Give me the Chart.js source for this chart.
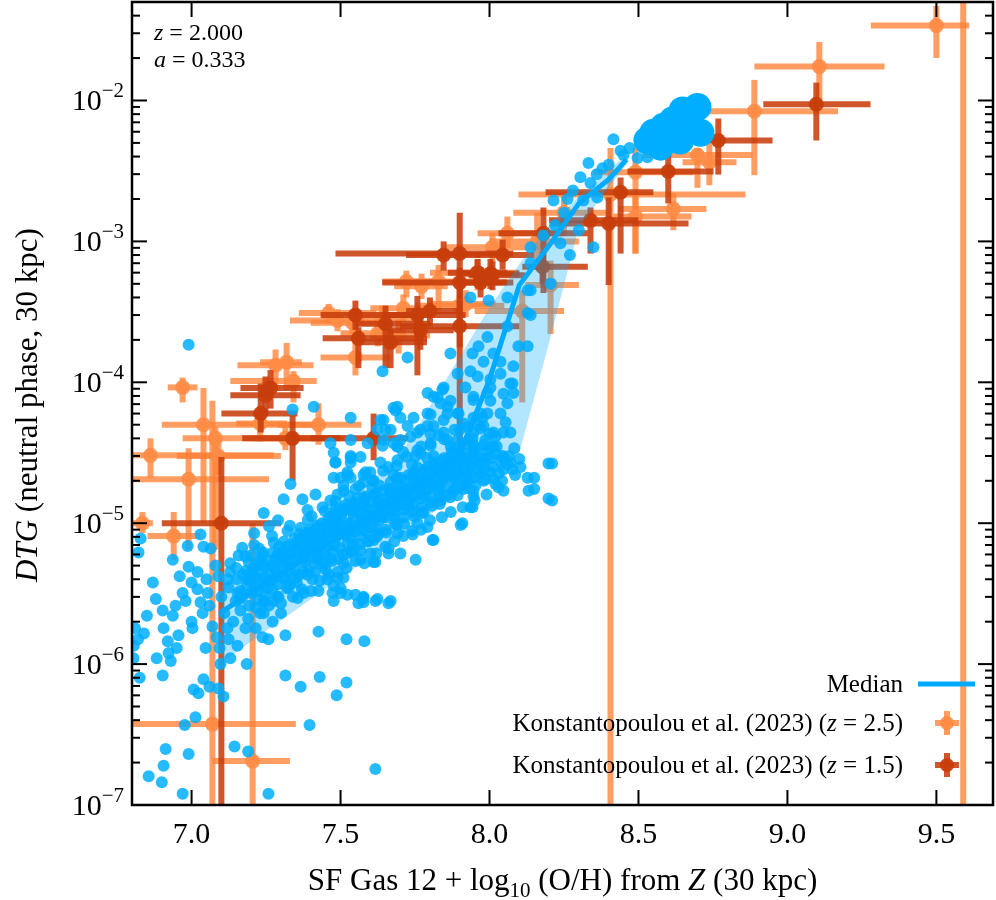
<!DOCTYPE html>
<html>
<head>
<meta charset="utf-8">
<title>DTG vs metallicity</title>
<script src="https://cdn.jsdelivr.net/npm/chart.js@4.4.0/dist/chart.umd.min.js"></script>
<style>
  html, body { margin: 0; padding: 0; background: #fff; }
  #wrap { width: 996px; height: 900px; position: relative; }
</style>
</head>
<body>
<div id="wrap"><canvas id="dtgChart"></canvas></div>
<script>
// ---- axis ranges and ticks ----
const X_MIN = 6.8, X_MAX = 9.69;
const Y_MIN = 1e-7, Y_MAX = 0.05;
const xTickValues = [7.0, 7.5, 8.0, 8.5, 9.0, 9.5];
const xTickLabels = ['7.0', '7.5', '8.0', '8.5', '9.0', '9.5'];
const yDecades = [-7, -6, -5, -4, -3, -2];

// ---- simulation median and 16-84 band ----
const medX  = [7.10, 7.20, 7.30, 7.40, 7.50, 7.60, 7.70, 7.80, 7.90, 8.00, 8.10, 8.20, 8.30, 8.40, 8.46];
const medY  = [2.34e-6, 3.24e-6, 4.37e-6, 6.03e-6, 8.13e-6, 1.12e-5, 1.51e-5, 2.09e-5, 3.09e-5, 1.05e-4, 4.9e-4, 9.33e-4, 1.86e-3, 2.75e-3, 3.8e-3];
const bandLo = [1.02e-6, 1.45e-6, 2.04e-6, 2.88e-6, 4.07e-6, 5.75e-6, 8.13e-6, 1.15e-5, 1.62e-5, 2.29e-5, 3.16e-5, 1.91e-4, 1.26e-3, 2.4e-3, 3.55e-3];
const bandHi = [3.63e-6, 5.01e-6, 6.76e-6, 9.77e-6, 1.38e-5, 2.0e-5, 3.02e-5, 6.76e-5, 1.51e-4, 3.39e-4, 6.92e-4, 1.29e-3, 2.09e-3, 3.16e-3, 4.17e-3];

// ---- simulated galaxies [12+log(O/H), DTG] ----
const simPoints = [
  [6.97,1.2e-7],[6.856,1.6e-7],[6.90,1.45e-7],[6.906,1.9e-7],[6.913,2.5e-7],[6.99,2.3e-7],
  [7.013,4.2e-7],[6.977,3.7e-7],[7.144,2.6e-7],[7.19,2.4e-7],[7.258,1.2e-7],[7.396,3.7e-7],
  [7.617,1.8e-7],[7.315,8.3e-7],[7.366,6.9e-7],[7.43,8.1e-7],[7.487,6.0e-7],[7.52,7.4e-7],
  [7.426,1.7e-6],[7.52,1.5e-6],[7.58,1.45e-6],[7.315,1.6e-6],[7.258,1.5e-6],[7.617,2.8e-6],
  [7.56,2.7e-6],[7.477,2.8e-6],[7.185,1.0e-6],[7.107,5.9e-7],[7.09,6.7e-7],[7.04,7.8e-7],
  [7.007,6.6e-7],[7.023,6.2e-7],[7.06,6.9e-7],[6.903,8.3e-7],[6.826,8.0e-7],[6.805,1.1e-6],
  [6.883,1.1e-6],[6.93,1.05e-6],[6.923,1.2e-6],[6.95,1.3e-6],[6.92,1.45e-6],[6.82,1.5e-6],
  [6.84,1.65e-6],[6.81,1.8e-6],[6.956,1.6e-6],[7.003,1.8e-6],[7.0,2.0e-6],[6.937,2.2e-6],
  [6.903,2.4e-6],[6.946,2.6e-6],[6.98,2.8e-6],[6.97,3.2e-6],[7.037,2.3e-6],[7.03,2.75e-6],
  [7.02,3.4e-6],[7.054,3.2e-6],[7.047,1.3e-6],[7.07,1.85e-6],[7.084,1.55e-6],[7.094,1.3e-6],
  [7.097,1.0e-6],[7.13,1.1e-6],[7.154,1.35e-6],[7.124,1.5e-6],[7.12,1.8e-6],[7.14,2.0e-6],
  [7.164,2.4e-6],[7.148,2.8e-6],[7.124,3.5e-6],[7.12,4.0e-6],[7.13,4.5e-6],[7.154,3.2e-6],
  [7.158,5.9e-6],[7.198,5.9e-6],[7.225,5.2e-6],[7.181,1.8e-6],[7.215,1.8e-6],[7.238,1.55e-6],
  [7.242,2.3e-6],[7.30,2.3e-6],[7.272,2.0e-6],[7.242,2.75e-6],[7.275,2.8e-6],[7.22,3.3e-6],
  [7.255,3.45e-6],[7.29,3.7e-6],[7.32,3.45e-6],[7.356,2.95e-6],[7.376,3.2e-6],[7.315,4.1e-6],
  [7.35,4.1e-6],[7.376,4.5e-6],[7.406,4.0e-6],[7.426,3.3e-6],[7.473,3.2e-6],[7.50,3.45e-6],
  [7.523,3.1e-6],[7.55,3.1e-6],[7.577,2.95e-6],[7.456,4.0e-6],[7.45,4.7e-6],[7.49,4.5e-6],
  [7.423,5.5e-6],[7.466,5.6e-6],[7.51,5.2e-6],[7.567,5.5e-6],[7.61,5.3e-6],[7.60,6.1e-6],
  [7.544,6.4e-6],[7.332,6.1e-6],[7.29,6.1e-6],[7.25,4.9e-6],[7.188,4.0e-6],[7.02,4.5e-6],
  [7.04,6.8e-6],[7.064,6.6e-6],[6.99,4.9e-6],[6.87,3.8e-6],[6.937,5.5e-6],[6.987,6.9e-6],
  [6.806,1.35e-6],[6.906,1.8e-6],[6.829,7.8e-6],[6.822,6.2e-6],[7.13,5.2e-6],[6.99,1.85e-4],
  [7.339,6.4e-5],[7.41,6.7e-5],[7.466,3.7e-5],[7.483,2.7e-5],[7.332,1.9e-5],[7.309,1.48e-5],
  [7.242,1.18e-5],[7.372,1.48e-5],[7.416,1.6e-5],[7.466,1.45e-5],[7.51,1.85e-5],[7.477,2.1e-5],
  [7.523,2.3e-5],[7.389,1.24e-5],[7.477,3.16e-5],[7.534,2.9e-5],[7.534,5.6e-5],[7.584,2.3e-5],
  [7.577,1.95e-5],[7.534,2.1e-5],[7.651,4.6e-5],[7.641,3.55e-5],[7.69,3.5e-5],[7.678,6.6e-5],
  [7.745,5.6e-5],[7.802,5.9e-5],[7.792,4.9e-5],[7.869,7.4e-5],[7.913,5.1e-5],[7.97,6.0e-5],
  [8.003,7.4e-5],[8.054,5.2e-5],[8.003,3.45e-5],[8.047,2.9e-5],[7.936,1.3e-5],[7.913,1.75e-5],
  [7.903,9.7e-6],[7.809,7.6e-6],[7.792,9.4e-6],[7.661,6.1e-6],[7.577,2.75e-6],[7.661,2.7e-6],
  [7.50,3.2e-6],[8.15,2.1e-5],[8.15,1.75e-5],[8.21,2.65e-5],[8.21,1.45e-5],[8.10,2.85e-5],
  // upper cloud
  [7.792,8.4e-5],[7.691,6.7e-5],[7.644,5.4e-5],[7.826,7.8e-5],[7.842,8.9e-5],[7.859,6.7e-5],
  [7.846,5.4e-5],[7.802,4.3e-5],[7.768,4.6e-5],[7.896,6.0e-5],[7.946,7.5e-5],[7.977,5.6e-5],
  [7.97,4.7e-5],[8.003,9.2e-5],[8.047,8.3e-5],[8.077,9.8e-5],[8.07,4.4e-5],[7.943,4.0e-5],
  [7.946,3.3e-5],[8.02,4.1e-5],[8.013,3.5e-5],[8.044,3.0e-5],[8.07,2.7e-5],[8.077,2.4e-5],
  [8.104,2.5e-5],[8.128,2.1e-5],[8.131,1.7e-5],[8.198,2.65e-5],[8.198,1.5e-5],[8.047,1.7e-5],
  [8.02,1.9e-5],[7.98,2.0e-5],[7.946,1.55e-5],[7.943,1.3e-5],[7.909,1.0e-5],[7.812,7.6e-6],
  [7.752,5.5e-6],[7.701,6.1e-6],[7.661,6.6e-6],[7.617,5.3e-6],[7.668,2.8e-6],[7.624,2.9e-6],
  [7.577,3.0e-6],[7.51,4.1e-6],[7.477,3.6e-6],
  // dense ridge
  [7.742,8.3e-6],[7.758,1.0e-5],[7.725,1.3e-5],[7.691,1.5e-5],[7.658,1.4e-5],[7.624,1.2e-5],
  [7.577,1.05e-5],[7.534,9.2e-6],[7.523,7.2e-6],[7.567,6.4e-6],[7.611,7.6e-6],[7.691,8.5e-6],
  [7.779,1.2e-5],[7.836,1.45e-5],[7.879,1.7e-5],[7.802,2.0e-5],[7.745,2.1e-5],[7.678,2.2e-5],
  [7.611,2.0e-5],[7.577,2.2e-5],[7.523,2.2e-5],[7.51,1.7e-5],[7.557,1.5e-5],[7.483,1.3e-5],
  [7.49,1.05e-5],[7.477,8.5e-6],[7.534,2.7e-5],[7.567,2.95e-5],[7.634,2.7e-5],[7.691,2.8e-5],
  [7.758,3.3e-5],[7.812,3.0e-5],[7.859,2.8e-5],[7.802,3.7e-5],[7.735,4.1e-5],[7.678,3.7e-5],
  [7.624,4.6e-5],[7.591,3.7e-5],[7.534,3.9e-5],[7.534,3.0e-5],[7.50,2.1e-5],[7.483,2.7e-5],
  [7.752,3.0e-5],[7.859,3.9e-5],[7.893,2.6e-5],[7.913,2.1e-5],[7.936,2.5e-5],[7.97,2.7e-5],
  [7.946,1.7e-5],
  [7.152,4.0e-6],[7.183,4.6e-6],[7.197,3.9e-6],[7.226,4.3e-6],[7.236,5.0e-6],[7.263,4.4e-6],
  [7.284,5.6e-6],[7.302,4.8e-6],[7.307,5.8e-6],[7.334,5.2e-6],[7.341,6.8e-6],[7.362,5.9e-6],
  [7.377,7.0e-6],[7.393,6.2e-6],[7.404,8.0e-6],[7.412,7.1e-6],[7.418,6.4e-6],[7.433,8.6e-6],
  [7.445,7.4e-6],[7.452,9.3e-6],[7.461,6.9e-6],[7.473,1.02e-5],[7.485,7.9e-6],[7.492,9.0e-6],
  [7.503,1.15e-5],[7.514,8.3e-6],[7.522,1.0e-5],[7.531,1.25e-5],[7.546,1.1e-5],[7.553,8.8e-6],
  [7.561,1.2e-5],[7.573,1.35e-5],[7.584,9.7e-6],[7.592,1.15e-5],[7.603,1.4e-5],[7.612,1.05e-5],
  [7.618,1.6e-5],[7.634,1.3e-5],[7.642,1.1e-5],[7.651,1.5e-5],[7.663,1.75e-5],[7.672,1.25e-5],
  [7.684,1.6e-5],[7.692,1.9e-5],[7.703,1.35e-5],[7.711,1.7e-5],[7.724,2.0e-5],[7.732,1.5e-5],
  [7.741,1.8e-5],[7.748,2.3e-5],[7.762,1.6e-5],[7.771,1.95e-5],[7.782,2.4e-5],[7.794,1.75e-5],
  [7.803,2.2e-5],[7.812,2.6e-5],[7.821,1.9e-5],[7.834,2.3e-5],[7.843,2.8e-5],[7.852,2.1e-5],
  [7.861,2.4e-5],[7.873,3.2e-5],[7.882,2.2e-5],[7.891,2.6e-5],[7.903,3.0e-5],[7.921,2.3e-5],
  [7.942,2.8e-5],[7.958,3.4e-5],[7.983,2.4e-5],
  [7.163,3.3e-6],[7.192,5.3e-6],[7.214,3.5e-6],[7.232,5.5e-6],[7.251,3.8e-6],[7.273,6.2e-6],
  [7.288,4.2e-6],[7.323,6.9e-6],[7.347,4.6e-6],[7.368,7.8e-6],[7.384,5.4e-6],[7.397,9.0e-6],
  [7.421,5.7e-6],[7.438,1.0e-5],[7.449,6.0e-6],[7.468,8.0e-6],[7.481,1.2e-5],[7.497,6.7e-6],
  [7.517,1.35e-5],[7.533,7.8e-6],[7.548,1.4e-5],[7.562,9.5e-6],[7.581,1.55e-5],[7.593,8.5e-6],
  [7.607,1.75e-5],[7.621,9.0e-6],[7.638,1.35e-5],[7.654,1.1e-5],[7.668,1.95e-5],[7.681,1.1e-5],
  [7.697,1.6e-5],[7.713,1.25e-5],[7.729,2.2e-5],[7.744,1.35e-5],[7.757,2.5e-5],[7.768,1.5e-5],
  [7.787,2.05e-5],[7.801,1.55e-5],[7.818,2.7e-5],[7.829,1.7e-5],[7.848,2.9e-5],[7.857,1.8e-5],
  [7.878,3.4e-5],[7.888,2.0e-5],[7.912,3.6e-5],[7.928,2.0e-5],[7.951,3.1e-5],[7.967,2.2e-5],
  [7.988,2.9e-5],[8.012,2.5e-5],[8.031,2.25e-5],[8.052,2.8e-5],
  [7.172,4.3e-6],[7.207,4.8e-6],[7.243,4.1e-6],[7.268,5.0e-6],[7.298,5.5e-6],[7.329,6.0e-6],
  [7.357,6.5e-6],[7.386,7.3e-6],[7.409,8.4e-6],[7.437,8.2e-6],[7.458,9.4e-6],[7.488,1.05e-5],
  [7.507,9.6e-6],[7.541,1.18e-5],[7.572,1.1e-5],[7.598,1.25e-5],[7.627,1.45e-5],[7.659,1.4e-5],
  [7.688,1.65e-5],[7.716,1.7e-5],[7.753,1.9e-5],[7.776,2.05e-5],[7.808,2.3e-5],[7.838,2.4e-5],
  [7.866,2.6e-5],[7.897,2.7e-5],[7.932,2.9e-5],[7.961,2.6e-5],[7.992,3.3e-5],
  [7.161,2.9e-6],[7.184,3.6e-6],[7.193,2.6e-6],[7.212,4.1e-6],[7.221,2.9e-6],[7.234,3.7e-6],
  [7.248,3.1e-6],[7.262,5.4e-6],[7.271,3.4e-6],[7.283,4.7e-6],[7.292,3.0e-6],[7.304,6.3e-6],
  [7.313,4.0e-6],[7.322,5.0e-6],[7.331,3.7e-6],[7.343,5.6e-6],[7.352,7.2e-6],[7.361,4.3e-6],
  [7.372,5.3e-6],[7.381,8.3e-6],[7.392,4.6e-6],[7.401,6.8e-6],[7.413,5.2e-6],[7.422,9.6e-6],
  [7.431,6.1e-6],[7.441,5.0e-6],[7.453,7.9e-6],[7.462,1.1e-5],[7.471,6.3e-6],[7.483,9.1e-6],
  [7.494,5.6e-6],[7.502,8.4e-6],[7.512,1.25e-5],[7.521,6.1e-6],[7.532,9.8e-6],[7.542,7.1e-6],
  [7.551,1.3e-5],[7.563,8.2e-6],[7.571,1.05e-5],[7.582,1.45e-5],[7.591,7.4e-6],[7.601,1.1e-5],
  [7.613,1.6e-5],[7.622,8.0e-6],[7.631,1.2e-5],[7.643,1.7e-5],[7.652,9.0e-6],[7.661,1.25e-5],
  [7.673,1.5e-5],[7.682,1.0e-5],[7.691,1.35e-5],[7.702,2.1e-5],[7.712,1.1e-5],[7.721,1.45e-5],
  [7.733,1.8e-5],[7.742,1.2e-5],[7.751,1.6e-5],[7.763,2.0e-5],[7.772,1.3e-5],[7.781,1.75e-5],
  [7.792,2.5e-5],[7.802,1.4e-5],[7.811,1.85e-5],[7.823,2.1e-5],[7.832,1.55e-5],[7.841,2.0e-5],
  [7.853,2.55e-5],[7.862,1.6e-5],[7.871,2.2e-5],[7.883,2.75e-5],[7.892,1.8e-5],[7.901,2.3e-5],
  [7.913,2.9e-5],[7.922,1.9e-5],[7.931,2.5e-5],[7.943,3.3e-5],[7.952,2.1e-5],[7.972,2.9e-5],
  [7.981,3.6e-5],[8.003,2.3e-5],[8.021,3.1e-5],[8.042,2.0e-5],[8.061,2.6e-5],[8.083,3.4e-5],
  [7.205,4.5e-6],[7.236,6.0e-6],[7.266,4.0e-6],[7.294,6.8e-6],[7.316,5.3e-6],[7.346,7.8e-6],
  [7.374,6.2e-6],[7.396,8.6e-6],[7.426,7.6e-6],[7.454,1.0e-5],[7.476,8.8e-6],[7.506,1.2e-5],
  [7.524,8.9e-6],[7.545,1.35e-5],[7.566,1.0e-5],[7.586,1.25e-5],[7.604,9.3e-6],[7.626,1.4e-5],
  [7.644,1.15e-5],[7.666,1.65e-5],[7.686,1.3e-5],[7.704,1.8e-5],[7.726,1.55e-5],[7.744,2.2e-5],
  [7.766,1.75e-5],[7.784,2.3e-5],[7.806,1.9e-5],[7.826,2.5e-5],[7.844,2.15e-5],[7.866,2.9e-5],
  [7.884,2.4e-5],[7.906,3.2e-5],[7.924,2.7e-5],[7.946,3.6e-5],[7.964,2.4e-5],[7.986,3.9e-5],
  [8.006,2.9e-5],[8.024,3.5e-5],[8.046,2.4e-5],[8.066,3.0e-5],[8.086,2.2e-5],
  [7.217,2.5e-6],[7.244,2.8e-6],[7.287,3.0e-6],[7.326,3.5e-6],[7.353,3.8e-6],[7.388,4.3e-6],
  [7.414,4.5e-6],[7.447,5.2e-6],[7.472,5.4e-6],[7.508,6.0e-6],[7.536,6.3e-6],[7.563,7.1e-6],
  [7.597,7.5e-6],[7.628,8.4e-6],[7.653,8.6e-6],[7.689,9.7e-6],[7.713,9.9e-6],[7.748,1.12e-5],
  [7.773,1.18e-5],[7.807,1.33e-5],[7.833,1.37e-5],[7.868,1.53e-5],[7.893,1.58e-5],[7.927,1.78e-5],
  [7.953,1.86e-5],[7.987,2.05e-5],[8.013,2.08e-5],
  [7.227,6.6e-6],[7.276,7.3e-6],[7.322,8.8e-6],[7.367,9.3e-6],[7.403,1.12e-5],[7.447,1.22e-5],
  [7.483,1.43e-5],[7.528,1.56e-5],[7.562,1.84e-5],[7.608,2.0e-5],[7.643,2.36e-5],[7.688,2.55e-5],
  [7.722,2.96e-5],[7.768,3.15e-5],[7.802,3.56e-5],[7.848,3.95e-5],[7.882,4.6e-5],[7.927,4.8e-5],
  [7.18,5.8e-6],[7.21,7.0e-6],[7.24,6.2e-6],[7.27,8.1e-6],[7.31,7.4e-6],[7.33,9.6e-6],
  [7.36,8.4e-6],[7.39,1.06e-5],[7.42,9.2e-6],[7.44,1.3e-5],[7.47,1.12e-5],[7.49,1.6e-5],
  [7.52,1.28e-5],[7.55,1.75e-5],[7.58,1.5e-5],[7.60,2.3e-5],[7.63,1.85e-5],[7.66,2.5e-5],
  [7.69,2.1e-5],[7.71,3.2e-5],[7.74,2.6e-5],[7.77,3.5e-5],[7.79,2.9e-5],[7.83,4.2e-5],
  [7.87,3.5e-5],[7.90,4.6e-5],[7.93,3.9e-5],[7.96,5.0e-5],[8.00,4.3e-5],
  [7.19,2.1e-6],[7.23,2.3e-6],[7.26,2.6e-6],[7.30,2.7e-6],[7.34,3.0e-6],[7.37,3.4e-6],
  [7.40,3.3e-6],[7.43,3.9e-6],[7.46,4.3e-6],[7.49,4.1e-6],[7.52,4.8e-6],[7.55,5.4e-6],
  [7.58,5.2e-6],[7.62,6.1e-6],[7.65,6.8e-6],[7.68,7.4e-6],[7.71,8.1e-6],[7.74,8.8e-6],
  [7.77,9.0e-6],[7.80,1.05e-5],[7.84,1.1e-5],[7.87,1.2e-5],[7.91,1.3e-5],[7.95,1.45e-5],
  [7.99,1.6e-5],[8.03,1.8e-5],
  [7.17,3.0e-6],[7.20,3.2e-6],[7.28,4.1e-6],[7.33,4.5e-6],[7.38,5.8e-6],[7.43,6.9e-6],
  [7.48,7.0e-6],[7.53,8.6e-6],[7.58,8.9e-6],[7.63,1.05e-5],[7.68,1.2e-5],[7.73,1.35e-5],
  [7.78,1.55e-5],[7.83,1.8e-5],[7.88,2.1e-5],[7.93,2.2e-5],[7.98,2.6e-5],[8.04,2.7e-5],
  [7.00,3.8e-6],[7.05,4.0e-6],[7.08,5.0e-6],[7.10,3.0e-6],[7.11,2.3e-6],[7.06,2.6e-6],
  [7.09,4.2e-6],[7.15,4.8e-6],[7.03,8.3e-6],[6.96,4.2e-6],[6.88,2.9e-6],[6.85,2.2e-6],
  [7.17,6.7e-6],[7.21,8.5e-6],[7.26,9.5e-6],[7.29,1.05e-5],
  // steep rise inside the band
  [7.936,4.0e-4],[7.997,3.8e-4],[8.138,4.5e-4],[8.138,3.0e-4],[8.097,1.8e-4],[8.128,1.8e-4],
  [8.06,2.5e-4],[7.993,2.1e-4],[7.963,1.8e-4],[7.943,1.6e-4],[8.013,1.6e-4],[8.037,1.4e-4],
  [7.98,1.4e-4],[7.936,1.2e-4],[7.96,1.1e-4],[8.003,1.05e-4],[8.037,1.15e-4],[8.07,9.8e-5],
  [8.08,1.3e-4],[7.993,8.4e-5],[7.946,7.9e-5],[7.919,9.2e-5],[7.893,1.15e-4],[7.869,1.6e-4],
  [7.846,9.2e-5],[7.836,7.1e-5],[7.812,7.9e-5],[7.859,6.0e-5],[7.893,6.0e-5],[7.946,5.6e-5],
  [7.993,6.0e-5],[8.037,6.0e-5],[7.98,4.9e-5],[7.946,4.4e-5],[7.893,3.9e-5],[7.846,4.4e-5],
  [7.792,6.0e-5],[7.812,4.9e-5],[7.758,4.4e-5],[7.725,4.9e-5],[7.701,5.6e-5],[7.685,6.3e-5],
  [7.634,5.4e-5],[7.668,4.6e-5],[7.701,3.9e-5],[7.644,3.9e-5],[8.06,7.1e-5],[8.08,8.4e-5],
  [8.013,4.4e-5],[8.047,4.4e-5],[7.725,1.5e-4],[7.641,1.2e-4],[7.691,3.5e-5],
  [8.416,5.3e-3],[8.44,4.4e-3],[8.332,3.6e-3],[8.379,3.3e-3],[8.305,2.85e-3],[8.339,2.6e-3],
  [8.362,2.05e-3],[8.315,1.95e-3],[8.262,2.0e-3],[8.215,1.95e-3],[8.497,3.9e-3],[8.53,3.95e-3],
  [8.349,9.1e-4],[8.238,9.7e-4],[8.138,9.1e-4],[8.138,7.0e-4],[8.205,5.0e-4],[8.128,4.5e-4],
  [8.128,3.1e-4],[8.06,4.0e-4],[8.47,4.6e-3],[8.45,4.1e-3],[8.40,3.5e-3],[8.36,3.0e-3],
  [8.28,2.3e-3],[8.25,1.6e-3],[8.22,1.3e-3],[8.18,1.1e-3],[8.30,1.2e-3],[8.27,8.0e-4]
];

// most massive galaxies, drawn with large markers
const simBigPoints = [
  [8.698,9.0e-3],[8.648,8.5e-3],[8.614,7.2e-3],[8.584,6.5e-3],[8.55,5.9e-3],[8.53,5.2e-3],
  [8.64,5.2e-3],[8.708,5.9e-3],[8.664,6.5e-3],[8.597,5.5e-3],[8.574,4.7e-3]
];

// ---- Konstantopoulou et al. (2023): [x, y, xMin, xMax, yMin, yMax] ----
const konst25 = [
  [9.50, 3.4e-2, 9.28, 9.61, 2.0e-2, 4.7e-2],
  [9.107, 1.74e-2, 8.889, 9.326, 9.0e-3, 2.6e-2],
  [8.889, 8.4e-3, 8.60, 9.17, 2.95e-3, 1.4e-2],
  [8.698, 4.1e-3, 8.517, 8.883, 2.4e-3, 4.6e-3],
  [8.738, 3.65e-3, 8.648, 8.829, 2.5e-3, 4.95e-3],
  [8.49, 3.1e-3, 8.349, 8.685, 8.2e-4, 4.6e-3],
  [8.406, 2.15e-3, 8.097, 8.859, 1e-9, 4.6e-3],
  [8.617, 1.7e-3, 8.433, 8.728, 1.2e-3, 2.2e-3],
  [8.49, 1.5e-3, 8.416, 8.678, 8.2e-4, 2.2e-3],
  [9.59, 1e-9, 9.585, 9.595, 1e-9, 1.0],
  [6.97, 9.2e-5, 6.92, 7.02, 7.2e-5, 1.08e-4],
  [7.282, 1.32e-4, 7.154, 7.409, 9.2e-5, 1.71e-4],
  [7.319, 1.39e-4, 7.23, 7.37, 8.8e-5, 1.9e-4],
  [7.342, 1.02e-4, 7.13, 7.42, 7.2e-5, 1.2e-4],
  [7.04, 5.0e-5, 6.90, 7.42, 1.0e-5, 9.1e-5],
  [7.08, 4.0e-5, 6.97, 7.55, 6.5e-6, 4.8e-5],
  [6.862, 3.03e-5, 6.80, 7.275, 2.1e-5, 4.0e-5],
  [7.09, 3.0e-5, 6.95, 7.30, 2.2e-5, 4.0e-5],
  [6.99, 2.05e-5, 6.80, 7.26, 6.5e-6, 3.4e-5],
  [6.835, 1.0e-5, 6.80, 6.87, 8.5e-6, 1.2e-5],
  [6.94, 8.1e-6, 6.852, 7.03, 5.5e-6, 1.2e-5],
  [7.07, 3.75e-7, 6.80, 7.35, 1e-9, 7.4e-5],
  [7.205, 2.05e-7, 7.07, 7.33, 1e-9, 1.0e-5],
  [7.426, 5.0e-5, 7.29, 7.57, 3.6e-5, 7.1e-5],
  [7.23, 5.1e-5, 7.15, 7.32, 3.8e-5, 6.8e-5],
  [7.315, 4.0e-5, 7.20, 7.42, 3.3e-5, 4.8e-5],
  [7.721, 5.2e-4, 7.64, 7.846, 4.0e-4, 6.2e-4],
  [7.772, 4.8e-4, 7.68, 7.86, 3.9e-4, 5.9e-4],
  [7.829, 5.2e-4, 7.72, 7.95, 3.2e-4, 6.8e-4],
  [7.46, 3.1e-4, 7.36, 7.62, 2.6e-4, 3.6e-4],
  [7.49, 2.75e-4, 7.33, 7.58, 2.3e-4, 3.3e-4],
  [7.54, 2.65e-4, 7.40, 7.65, 2.2e-4, 3.2e-4],
  [7.64, 2.85e-4, 7.55, 7.75, 2.3e-4, 3.5e-4],
  [7.625, 2.23e-4, 7.50, 7.72, 1.8e-4, 2.8e-4],
  [7.695, 2.15e-4, 7.60, 7.80, 1.6e-4, 2.8e-4],
  [7.711, 3.35e-4, 7.60, 7.82, 2.7e-4, 4.2e-4],
  [7.55, 1.5e-4, 7.433, 7.668, 1.12e-4, 2.1e-4],
  [7.90, 3.5e-4, 7.75, 8.05, 3.0e-4, 4.2e-4],
  [8.01, 9.1e-4, 7.85, 8.20, 7.0e-4, 1.15e-3],
  [8.06, 1.14e-3, 7.96, 8.25, 9.0e-4, 1.5e-3],
  [8.11, 3.2e-4, 7.95, 8.25, 7.2e-5, 4.5e-4],
  [7.92, 3.6e-4, 7.80, 8.02, 2.9e-4, 4.5e-4],
  [8.16, 1.0e-3, 8.00, 8.30, 6.8e-4, 1.6e-3],
  [8.25, 1.6e-3, 8.08, 8.40, 1.1e-3, 2.1e-3],
  [7.96, 6.0e-4, 7.80, 8.10, 4.5e-4, 7.5e-4],
  [8.205, 4.9e-4, 8.12, 8.30, 2.2e-4, 7.3e-4]
];

const konst15 = [
  [9.097, 9.4e-3, 8.919, 9.279, 5.2e-3, 1.34e-2],
  [8.768, 5.2e-3, 8.68, 8.95, 2.98e-3, 7.45e-3],
  [8.60, 3.13e-3, 8.463, 8.752, 1.86e-3, 4.41e-3],
  [8.44, 2.23e-3, 8.188, 8.55, 8.2e-4, 2.84e-3],
  [8.40, 1.34e-3, 8.205, 8.668, 4.9e-4, 2.05e-3],
  [8.339, 1.41e-3, 8.20, 8.50, 8.2e-4, 1.74e-3],
  [8.181, 1.14e-3, 8.03, 8.33, 4.3e-4, 1.74e-3],
  [8.178, 6.6e-4, 8.11, 8.33, 5.0e-4, 8.5e-4],
  [8.003, 5.9e-4, 7.90, 8.10, 4.6e-4, 7.5e-4],
  [7.90, 8.2e-4, 7.483, 8.08, 1.77e-4, 1.6e-3],
  [7.846, 8.0e-4, 7.72, 7.97, 6.2e-4, 1.0e-3],
  [7.90, 5.1e-4, 7.64, 8.08, 3.9e-4, 6.5e-4],
  [7.97, 5.1e-4, 7.90, 8.06, 4.0e-4, 6.5e-4],
  [8.044, 8.0e-4, 7.95, 8.15, 6.3e-4, 1.03e-3],
  [8.01, 5.75e-4, 7.93, 8.12, 4.5e-4, 7.2e-4],
  [7.55, 3.0e-4, 7.433, 7.735, 2.35e-4, 3.8e-4],
  [7.56, 2.05e-4, 7.44, 7.79, 1.26e-4, 2.46e-4],
  [7.651, 2.6e-4, 7.55, 7.80, 1.26e-4, 3.5e-4],
  [7.668, 1.92e-4, 7.55, 7.79, 1.26e-4, 2.4e-4],
  [7.758, 3.0e-4, 7.64, 7.92, 1.12e-4, 4.1e-4],
  [7.768, 2.34e-4, 7.66, 7.88, 1.7e-4, 3.0e-4],
  [7.90, 2.5e-4, 7.70, 8.10, 2.1e-5, 3.8e-4],
  [7.265, 9.1e-5, 7.164, 7.376, 6.5e-5, 1.22e-4],
  [7.248, 8.1e-5, 7.13, 7.366, 6.0e-5, 1.1e-4],
  [7.232, 6.0e-5, 7.10, 7.355, 4.4e-5, 9.8e-5],
  [7.339, 4.0e-5, 7.17, 7.50, 2.0e-5, 5.8e-5],
  [7.611, 4.0e-5, 7.40, 7.728, 2.8e-5, 6.0e-5],
  [7.10, 1.0e-5, 6.90, 7.30, 1e-9, 2.95e-5],
  [7.80, 3.2e-4, 7.72, 7.90, 2.5e-4, 4.0e-4],
  [7.96, 6.0e-4, 7.86, 8.06, 4.8e-4, 7.5e-4]
];

// ---- styles ----
const SERIF = '"Liberation Serif", "DejaVu Serif", serif';
const BLUE_DOT = 'rgba(0, 174, 255, 0.85)';
const BLUE_LINE = '#00aaff';
const BAND_FILL = 'rgba(0, 170, 255, 0.30)';
const ORANGE_BAR = 'rgba(255, 130, 55, 0.78)';
const ORANGE_DOT = 'rgba(255, 140, 70, 0.9)';
const RED_BAR = 'rgba(200, 62, 12, 0.88)';
const RED_DOT = 'rgba(200, 62, 12, 0.95)';

const toXY = (xs, ys) => xs.map((v, i) => ({ x: v, y: ys[i] }));
const pairs = rows => rows.map(r => ({ x: r[0], y: r[1] }));

const IDX_K15 = 5, IDX_K25 = 6;

function drawErrorBars(ctx, xs, ys, rows, color) {
    ctx.strokeStyle = color;
    ctx.lineWidth = 6;
    ctx.lineCap = 'butt';
    rows.forEach(r => {
        const px = xs.getPixelForValue(r[0]);
        const py = ys.getPixelForValue(r[1]);
        ctx.beginPath();
        ctx.moveTo(xs.getPixelForValue(r[2]), py);
        ctx.lineTo(xs.getPixelForValue(r[3]), py);
        ctx.stroke();
        ctx.beginPath();
        ctx.moveTo(px, ys.getPixelForValue(r[4]));
        ctx.lineTo(px, ys.getPixelForValue(r[5]));
        ctx.stroke();
    });
}

// draw a row of text pieces (different fonts / baselines) starting at x
function drawRuns(ctx, runs, x, y, align) {
    let total = 0;
    runs.forEach(r => { ctx.font = r.font; r.w = ctx.measureText(r.t).width; total += r.w; });
    let cx = align === 'right' ? x - total : align === 'center' ? x - total / 2 : x;
    ctx.textAlign = 'left';
    ctx.textBaseline = 'alphabetic';
    runs.forEach(r => {
        ctx.font = r.font;
        ctx.fillText(r.t, cx, y + (r.dy || 0));
        cx += r.w;
    });
}

const errorBarPlugin = {
    id: 'errorBars',
    beforeDatasetDraw(chart, args) {
        if (args.index !== IDX_K15 && args.index !== IDX_K25) return;
        const { ctx, chartArea: a, scales: { x, y } } = chart;
        ctx.save();
        ctx.beginPath();
        ctx.rect(a.left, a.top, a.right - a.left, a.bottom - a.top);
        ctx.clip();
        if (args.index === IDX_K25) drawErrorBars(ctx, x, y, konst25, ORANGE_BAR);
        else drawErrorBars(ctx, x, y, konst15, RED_BAR);
        ctx.restore();
    }
};

const framePlugin = {
    id: 'frame',
    afterDraw(chart) {
        const { ctx, chartArea: a, scales: { x, y } } = chart;
        ctx.save();
        ctx.strokeStyle = '#000';
        ctx.fillStyle = '#000';

        // inward ticks
        ctx.lineWidth = 2;
        const seg = (x0, y0, x1, y1) => { ctx.beginPath(); ctx.moveTo(x0, y0); ctx.lineTo(x1, y1); ctx.stroke(); };
        xTickValues.forEach(v => {
            const px = x.getPixelForValue(v);
            seg(px, a.bottom, px, a.bottom - 15);
            seg(px, a.top, px, a.top + 15);
        });
        yDecades.forEach(n => {
            const py = y.getPixelForValue(Math.pow(10, n));
            seg(a.left, py, a.left + 15, py);
            seg(a.right, py, a.right - 15, py);
            for (let k = 2; k <= 9; k++) {
                const v = k * Math.pow(10, n);
                if (v >= Y_MAX) break;
                const pm = y.getPixelForValue(v);
                seg(a.left, pm, a.left + 8, pm);
                seg(a.right, pm, a.right - 8, pm);
            }
        });

        // frame
        ctx.lineWidth = 2.5;
        ctx.strokeRect(a.left, a.top, a.right - a.left, a.bottom - a.top);

        // x tick labels
        ctx.font = '30px ' + SERIF;
        ctx.textAlign = 'center';
        ctx.textBaseline = 'alphabetic';
        xTickValues.forEach((v, i) => ctx.fillText(xTickLabels[i], x.getPixelForValue(v), a.bottom + 38));

        // y tick labels 10^n
        yDecades.forEach(n => {
            const py = y.getPixelForValue(Math.pow(10, n));
            drawRuns(ctx, [
                { t: '10', font: '30px ' + SERIF },
                { t: '\u2212' + Math.abs(n), font: '21px ' + SERIF, dy: -13 }
            ], a.left - 8, py + 10, 'right');
        });

        // axis titles
        drawRuns(ctx, [
            { t: 'SF Gas 12 + log', font: '31px ' + SERIF },
            { t: '10', font: '21px ' + SERIF, dy: 7 },
            { t: ' (O/H) from ', font: '31px ' + SERIF },
            { t: 'Z', font: 'italic 31px ' + SERIF },
            { t: ' (30 kpc)', font: '31px ' + SERIF }
        ], (a.left + a.right) / 2, 890, 'center');

        ctx.save();
        ctx.translate(37, 405);
        ctx.rotate(-Math.PI / 2);
        drawRuns(ctx, [
            { t: 'DTG', font: 'italic 31px ' + SERIF },
            { t: ' (neutral phase, 30 kpc)', font: '31px ' + SERIF }
        ], 0, 0, 'center');
        ctx.restore();

        // redshift annotation
        drawRuns(ctx, [{ t: 'z', font: 'italic 24px ' + SERIF }, { t: ' = 2.000', font: '24px ' + SERIF }], a.left + 22, 40, 'left');
        drawRuns(ctx, [{ t: 'a', font: 'italic 24px ' + SERIF }, { t: ' = 0.333', font: '24px ' + SERIF }], a.left + 22, 67, 'left');

        // legend
        const lx = 903, mx = 947;
        drawRuns(ctx, [{ t: 'Median', font: '25px ' + SERIF }], lx, 692, 'right');
        ctx.strokeStyle = BLUE_LINE;
        ctx.lineWidth = 5;
        seg(918, 684, 975, 684);

        const legendRows = [
            { label: '2.5', yc: 723, bar: ORANGE_BAR, dot: ORANGE_DOT },
            { label: '1.5', yc: 765, bar: RED_BAR, dot: RED_DOT }
        ];
        legendRows.forEach(r => {
            ctx.fillStyle = '#000';
            drawRuns(ctx, [
                { t: 'Konstantopoulou et al. (2023) (', font: '25px ' + SERIF },
                { t: 'z', font: 'italic 25px ' + SERIF },
                { t: ' = ' + r.label + ')', font: '25px ' + SERIF }
            ], lx, r.yc + 8, 'right');
            ctx.strokeStyle = r.bar;
            ctx.lineWidth = 6;
            seg(mx - 12, r.yc, mx + 12, r.yc);
            seg(mx, r.yc - 12, mx, r.yc + 12);
            ctx.fillStyle = r.dot;
            ctx.beginPath();
            ctx.arc(mx, r.yc, 7, 0, Math.PI * 2);
            ctx.fill();
        });
        ctx.restore();
    }
};

new Chart(document.getElementById('dtgChart'), {
    type: 'scatter',
    data: {
        datasets: [
            {
                type: 'line', label: 'Median', data: toXY(medX, medY), order: 0,
                borderColor: BLUE_LINE, borderWidth: 5, pointRadius: 0, fill: false, tension: 0
            },
            {
                type: 'line', label: 'band low', data: toXY(medX, bandLo), order: 2,
                borderColor: 'rgba(0,0,0,0)', borderWidth: 1, pointRadius: 0, fill: false, tension: 0
            },
            {
                type: 'line', label: 'band high', data: toXY(medX, bandHi), order: 1,
                borderColor: 'rgba(0,0,0,0)', borderWidth: 1, pointRadius: 0,
                fill: '-1', backgroundColor: BAND_FILL, tension: 0
            },
            {
                label: 'massive', data: pairs(simBigPoints), order: 3,
                pointRadius: 14, pointBackgroundColor: '#00aeff', pointBorderWidth: 0
            },
            {
                label: 'simulation', data: pairs(simPoints), order: 4,
                pointRadius: 6, pointBackgroundColor: BLUE_DOT, pointBorderWidth: 0
            },
            {
                label: 'z=1.5', data: pairs(konst15), order: 5,
                pointRadius: 7.5, pointBackgroundColor: RED_DOT, pointBorderWidth: 0
            },
            {
                label: 'z=2.5', data: pairs(konst25), order: 6,
                pointRadius: 7.5, pointBackgroundColor: ORANGE_DOT, pointBorderWidth: 0
            }
        ]
    },
    options: {
        responsive: true,
        maintainAspectRatio: false,
        animation: false,
        layout: { autoPadding: false, padding: { left: 132, right: 3, top: 2, bottom: 95 } },
        plugins: {
            legend: { display: false },
            tooltip: { enabled: false }
        },
        scales: {
            x: { type: 'linear', min: X_MIN, max: X_MAX, display: false },
            y: { type: 'logarithmic', min: Y_MIN, max: Y_MAX, display: false }
        }
    },
    plugins: [errorBarPlugin, framePlugin]
});
</script>
</body>
</html>
